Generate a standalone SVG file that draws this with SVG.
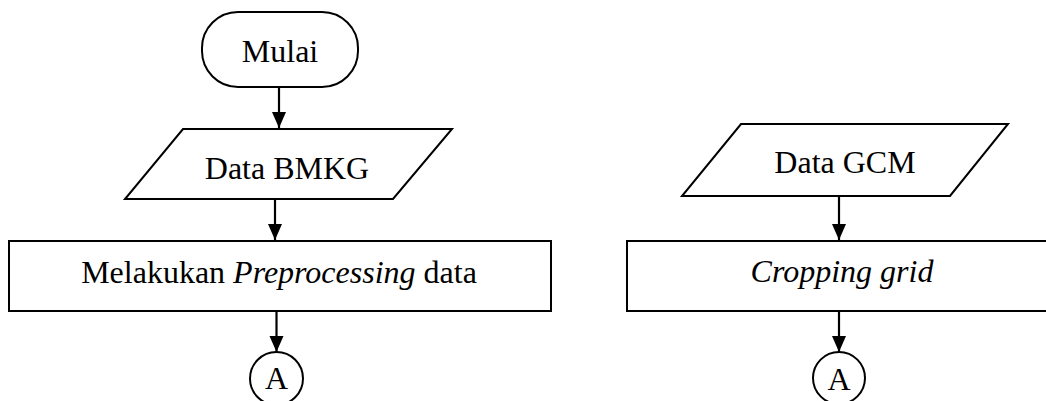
<svg xmlns="http://www.w3.org/2000/svg" width="1046" height="401" viewBox="0 0 1046 401">
  <style>
    .shape { fill: #ffffff; stroke: #000000; stroke-width: 2; }
    .label { font-family: "Liberation Serif", "Times New Roman", serif; font-size: 32px; fill: #000000; text-anchor: middle; }
    .it { font-style: italic; }
    .edge { fill: none; stroke: #000000; stroke-width: 2.2; }
  </style>
  <defs>
    <marker id="arrow" markerUnits="userSpaceOnUse" markerWidth="18" markerHeight="16" refX="16" refY="7" orient="auto">
      <path d="M0,0 L16,7 L0,14 Z" fill="#000000"/>
    </marker>
  </defs>

  <rect width="1046" height="401" fill="#ffffff"/>

  <!-- connectors -->
  <g id="connectors">
    <line class="edge" x1="279" y1="87" x2="279" y2="128" marker-end="url(#arrow)"/>
    <line class="edge" x1="275" y1="199" x2="275" y2="240" marker-end="url(#arrow)"/>
    <line class="edge" x1="276.5" y1="311" x2="276.5" y2="352" marker-end="url(#arrow)"/>
    <line class="edge" x1="839" y1="196" x2="839" y2="240" marker-end="url(#arrow)"/>
    <line class="edge" x1="839" y1="311" x2="839" y2="352" marker-end="url(#arrow)"/>
  </g>

  <!-- left flow -->
  <g id="mulai">
    <rect class="shape" x="202" y="12" width="156" height="75" rx="36" ry="36"/>
    <text class="label" x="280" y="62">Mulai</text>
  </g>

  <g id="data-bmkg">
    <polygon class="shape" points="183,129 452,129 393,199 125,199"/>
    <text class="label" x="287" y="179">Data BMKG</text>
  </g>

  <g id="preprocessing">
    <rect class="shape" x="9" y="241" width="542" height="70"/>
    <text class="label" x="279" y="283">Melakukan <tspan class="it">Preprocessing</tspan> data</text>
  </g>

  <g id="connector-a-left">
    <circle class="shape" cx="276.5" cy="378.5" r="26.5"/>
    <text class="label" x="276.5" y="389">A</text>
  </g>

  <!-- right flow -->
  <g id="data-gcm">
    <polygon class="shape" points="741,124 1008,124 950,196 682,196"/>
    <text class="label" x="845" y="173">Data GCM</text>
  </g>

  <g id="cropping-grid">
    <rect class="shape" x="627" y="241" width="430" height="70"/>
    <text class="label it" x="842" y="282">Cropping grid</text>
  </g>

  <g id="connector-a-right">
    <circle class="shape" cx="839" cy="378" r="26"/>
    <text class="label" x="839" y="390">A</text>
  </g>
</svg>
